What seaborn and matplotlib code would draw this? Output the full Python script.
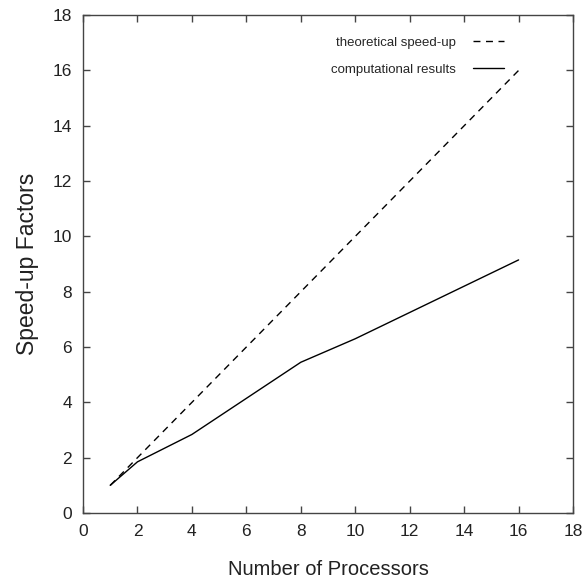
import matplotlib
matplotlib.use('Agg')
import matplotlib.pyplot as plt
import seaborn as sns
import pandas as pd

# data
processors = [1, 2, 4, 8, 10, 16]
computational = [1.0, 1.85, 2.84, 5.45, 6.3, 9.15]
theoretical_x = [1, 16]
theoretical = [1, 16]

sns.set_style("ticks")
plt.rcParams['font.family'] = ['Liberation Sans', 'DejaVu Sans']

fig = plt.figure(figsize=(5.82, 5.81), dpi=100)
ax = fig.add_axes([0.1426, 0.117, 0.842, 0.857])

df_t = pd.DataFrame({"p": theoretical_x, "s": theoretical})
df_c = pd.DataFrame({"p": processors, "s": computational})

sns.lineplot(data=df_t, x="p", y="s", ax=ax, color="black", linewidth=1.0,
             linestyle=(0, (5, 4)), label="theoretical speed-up")
sns.lineplot(data=df_c, x="p", y="s", ax=ax, color="black", linewidth=1.0,
             label="computational results")

ax.set_xlim(0, 18)
ax.set_ylim(0, 18)
ax.set_xticks(range(0, 19, 2))
ax.set_yticks(range(0, 19, 2))
ax.set_xlabel("Number of Processors", fontsize=14.5, labelpad=15, color="#222222")
ax.set_ylabel("Speed-up Factors", fontsize=16.5, labelpad=10, color="#222222")

for s in ax.spines.values():
    s.set_visible(True)
    s.set_color("#444444")
    s.set_linewidth(1.0)
ax.tick_params(direction="in", length=5, width=1, color="#444444",
               top=True, right=True, labelsize=12.5, labelcolor="#222222", pad=8)

leg = ax.legend(loc="upper right", bbox_to_anchor=(0.884, 0.981), frameon=False,
                markerfirst=False, fontsize=9.5, handlelength=2.4,
                labelspacing=1.15, handletextpad=1.3)

fig.savefig("out.png", dpi=100)
